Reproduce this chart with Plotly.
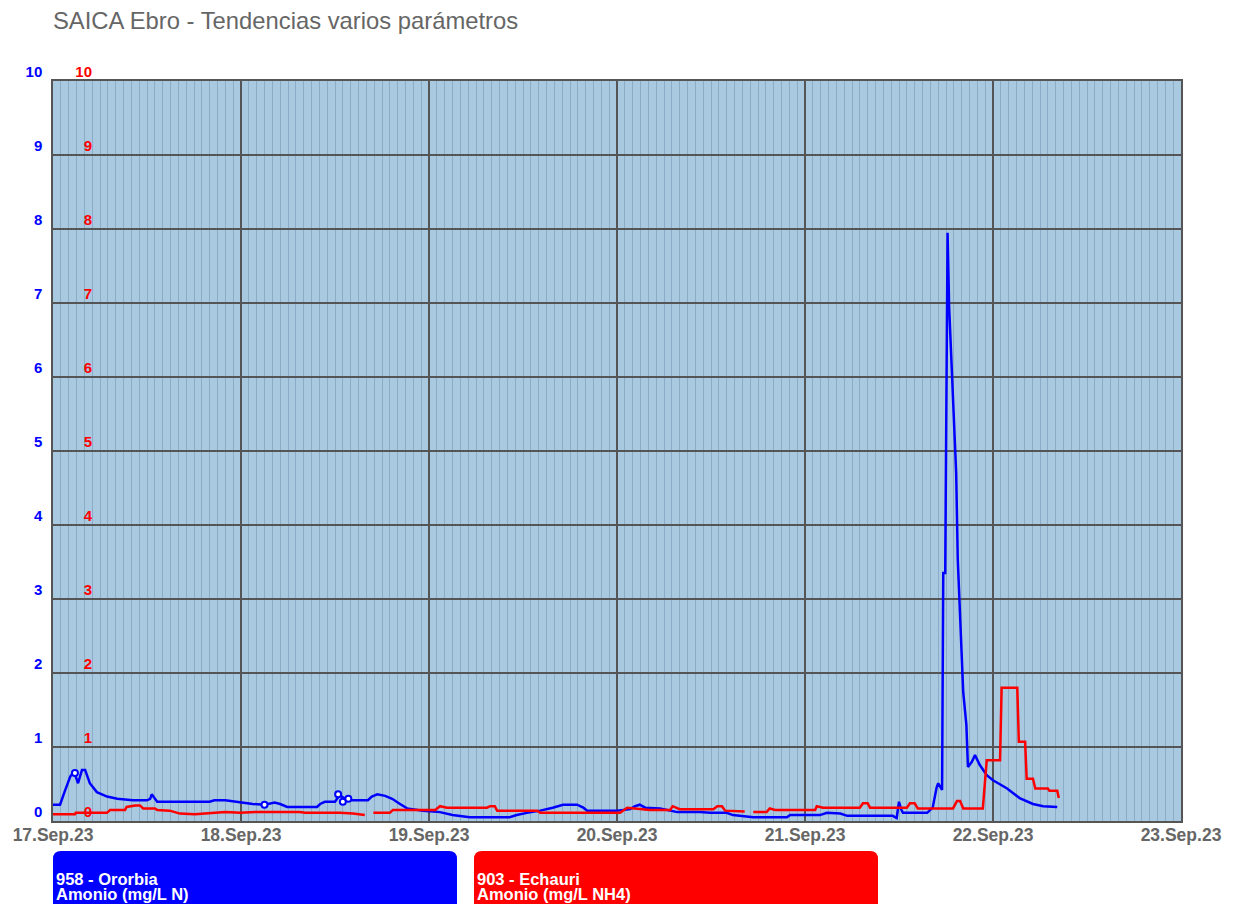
import plotly.graph_objects as go
import pandas as pd

start = pd.Timestamp("2023-09-17 00:00")

# 958 - Ororbia, Amonio (mg/L N): hours since 17.Sep.23 00:00
blue_hours = [0, 0.9, 1.5, 2.2, 2.55, 2.9, 3.2, 3.45, 3.7, 4.1, 4.7, 5.6, 6.9, 8.2, 10.2, 12.0,
              12.4, 12.6, 13.0, 13.3, 20.0, 20.6, 22.0, 23.9, 24.5, 25.5, 27.0, 28.3, 29.0, 29.9,
              33.7, 34.1, 34.7, 36.0, 36.6, 37.3, 37.9, 40.2, 40.7, 41.4, 42.4, 43.3, 44.3, 45.2,
              47.2, 49.4, 51.0, 53.2, 58.3, 59.2, 60.5, 62.2, 63.8, 65.1, 66.9, 67.7, 68.2, 72.0,
              73.7, 74.3, 74.9, 75.6, 77.5, 78.8, 79.7, 82.6, 83.9, 86.0, 86.8, 89.4, 93.7, 94.1,
              97.9, 98.8, 100.5, 101.4, 107.2, 107.7, 108.0, 108.3, 108.5, 111.6, 112.3, 112.8,
              113.0, 113.5, 113.65, 113.9, 114.2, 114.4, 114.9, 115.3, 115.5, 115.9, 116.2, 116.6,
              116.7, 116.8, 117.3, 117.7, 118.3, 119.2, 120.0, 121.8, 123.4, 125.1, 126.4, 128.2]
blue_values = [0.22, 0.22, 0.40, 0.60, 0.65, 0.60, 0.51, 0.60, 0.69, 0.69, 0.51, 0.39, 0.33, 0.30, 0.28, 0.28,
               0.30, 0.36, 0.30, 0.26, 0.26, 0.28, 0.28, 0.25, 0.24, 0.23, 0.22, 0.25, 0.23, 0.19,
               0.19, 0.23, 0.26, 0.26, 0.35, 0.30, 0.28, 0.28, 0.33, 0.36, 0.34, 0.30, 0.23, 0.17,
               0.14, 0.12, 0.08, 0.05, 0.05, 0.08, 0.11, 0.14, 0.18, 0.22, 0.22, 0.18, 0.14, 0.14,
               0.16, 0.20, 0.22, 0.18, 0.17, 0.14, 0.12, 0.12, 0.11, 0.11, 0.08, 0.05, 0.05, 0.08,
               0.08, 0.11, 0.10, 0.07, 0.07, 0.04, 0.26, 0.15, 0.11, 0.11, 0.18, 0.45,
               0.51, 0.42, 3.35, 3.35, 7.95, 6.95, 5.72, 4.70, 3.54, 2.41, 1.74, 1.30,
               0.86, 0.73, 0.80, 0.89, 0.76, 0.62, 0.55, 0.44, 0.31, 0.23, 0.20, 0.19]

# flagged values on the Ororbia series (white circles)
flag_hours = [2.8, 27.0, 36.4, 37.0, 37.7]
flag_values = [0.65, 0.22, 0.36, 0.26, 0.30]

# 903 - Echauri, Amonio (mg/L NH4); None = missing data
red_hours = [0, 2.8, 2.9, 6.9, 7.3, 9.2, 9.4, 10.5, 11.1, 11.5, 13.0, 13.3, 14.9, 16.2, 18.1, 20.0,
             22.0, 23.9, 25.8, 31.5, 32.2, 36.6, 38.3, 39.8, 40.3, 40.9, 43.0, 43.4, 48.8, 49.4,
             50.3, 55.4, 55.8, 56.4, 56.7, 61.8, 62.2, 72.4, 73.3, 76.2, 78.8, 79.1, 80.0, 84.3,
             84.8, 85.4, 85.8, 88.3, 88.8, 89.4, 91.1, 91.5, 92.2, 97.3, 97.5, 98.3, 103.0, 103.4,
             104.0, 104.3, 109.0, 109.4, 110.0, 110.4, 114.9, 115.4, 115.8, 116.2, 118.7, 119.2,
             120.9, 121.1, 123.1, 123.3, 124.1, 124.3, 125.1, 125.4, 127.0, 127.2, 128.2, 128.4]
red_values = [0.09, 0.09, 0.11, 0.11, 0.15, 0.15, 0.19, 0.21, 0.21, 0.17, 0.17, 0.15, 0.14, 0.10, 0.09, 0.10,
              0.12, 0.11, 0.12, 0.12, 0.11, 0.11, 0.10, 0.08, None, 0.11, 0.11, 0.15, 0.15, 0.20,
              0.18, 0.18, 0.20, 0.20, 0.14, 0.14, 0.11, 0.11, 0.18, 0.15, 0.15, 0.20, 0.16, 0.16,
              0.20, 0.20, 0.14, 0.13, None, 0.12, 0.12, 0.17, 0.15, 0.15, 0.20, 0.18, 0.18, 0.24,
              0.24, 0.18, 0.18, 0.24, 0.24, 0.17, 0.17, 0.27, 0.27, 0.17, 0.17, 0.82,
              0.82, 1.80, 1.80, 1.07, 1.07, 0.57, 0.57, 0.44, 0.44, 0.41, 0.41, 0.31]

legend_items = [
    ("958 - Ororbia", "Amonio (mg/L N)", "#0000ff"),
    ("903 - Echauri", "Amonio (mg/L NH4)", "#ff0000"),
]


def to_time(hours):
    return [start + pd.Timedelta(hours=h) for h in hours]


font = "Liberation Sans, Arial, sans-serif"
OFF = 8  # page margin around the figure div
W, H = 1243 - OFF, 904 - OFF
L, T = 53 - OFF, 81 - OFF
R, B = W - (1181 - OFF), H - (821 - OFF)
pw, ph = W - L - R, H - T - B


# page pixel -> paper coordinates
def px(x):
    return (x - OFF - L) / pw


def py(y):
    return (H - B - (y - OFF)) / ph


fig = go.Figure()
fig.add_trace(go.Scatter(x=to_time(red_hours), y=red_values, mode="lines", yaxis="y2",
                         line=dict(color="#ff0000", width=2.5), connectgaps=False, showlegend=False))
fig.add_trace(go.Scatter(x=to_time(blue_hours), y=blue_values, mode="lines",
                         line=dict(color="#0000ff", width=2.5), showlegend=False))
fig.add_trace(go.Scatter(x=to_time(flag_hours), y=flag_values, mode="markers",
                         marker=dict(color="white", size=6, line=dict(color="#0000ff", width=2)),
                         showlegend=False))

# legend boxes below the plot
shapes = []
annotations = []
box_x = [(53, 457), (474, 878)]
for (name, unit, col), (x0, x1) in zip(legend_items, box_x):
    rx, ry = 8 / pw, 8 / ph
    a0, a1 = px(x0), px(x1)
    b1, b0 = py(851), py(915)
    path = (f"M {a0 + rx},{b1} L {a1 - rx},{b1} Q {a1},{b1} {a1},{b1 - ry} "
            f"L {a1},{b0} L {a0},{b0} L {a0},{b1 - ry} Q {a0},{b1} {a0 + rx},{b1} Z")
    shapes.append(dict(type="path", path=path, xref="paper", yref="paper",
                       fillcolor=col, line=dict(width=0), layer="above"))
    for txt, yy in ((name, 879), (unit, 894)):
        annotations.append(dict(text=txt, xref="paper", yref="paper",
                                x=px(x0 + 1), y=py(yy), xanchor="left", yanchor="middle",
                                showarrow=False,
                                font=dict(family=font, size=16.5, color="white", weight="bold")))

fig.update_layout(
    width=W, height=H,
    margin=dict(l=L, r=R, t=T, b=B, autoexpand=False),
    paper_bgcolor="white",
    plot_bgcolor="#a9c9e1",
    title=dict(text="SAICA Ebro - Tendencias varios parámetros",
               x=(53 - OFF) / W, xanchor="left", y=1 - (21 - OFF) / H, yanchor="middle",
               xref="container", yref="container", automargin=False,
               font=dict(family=font, size=23.8, color="#666666")),
    xaxis=dict(type="date", range=["2023-09-17", "2023-09-23"], dtick=86400000,
               tick0="2023-09-17", tickformat="%d.%b.%y", automargin=False,
               showgrid=True, gridcolor="#555555", gridwidth=1.5,
               minor=dict(dtick=3600000, showgrid=True, gridcolor="#8aacc6", gridwidth=1),
               showline=True, linecolor="#555555", linewidth=1.5, mirror=True,
               ticks="", ticklabelstandoff=-3,
               tickfont=dict(family=font, size=17.5, color="#666666", weight="bold"),
               zeroline=False),
    yaxis=dict(range=[0, 10], dtick=1, automargin=False,
               showgrid=True, gridcolor="#555555", gridwidth=2,
               showline=True, linecolor="#555555", linewidth=1.5, mirror=True,
               ticks="", ticklabelstandoff=6, ticklabelshift=-9,
               tickfont=dict(family=font, size=15, color="#0000ff", weight="bold"),
               zeroline=False),
    yaxis2=dict(range=[0, 10], dtick=1, overlaying="y", side="left", anchor="free",
                position=px(96), automargin=False,
                showgrid=False, showline=False, zeroline=False,
                ticks="", ticklabelstandoff=4, ticklabelshift=-9,
                tickfont=dict(family=font, size=15, color="#ff0000", weight="bold")),
    shapes=shapes,
    annotations=annotations,
)

fig.write_html("out.html")
